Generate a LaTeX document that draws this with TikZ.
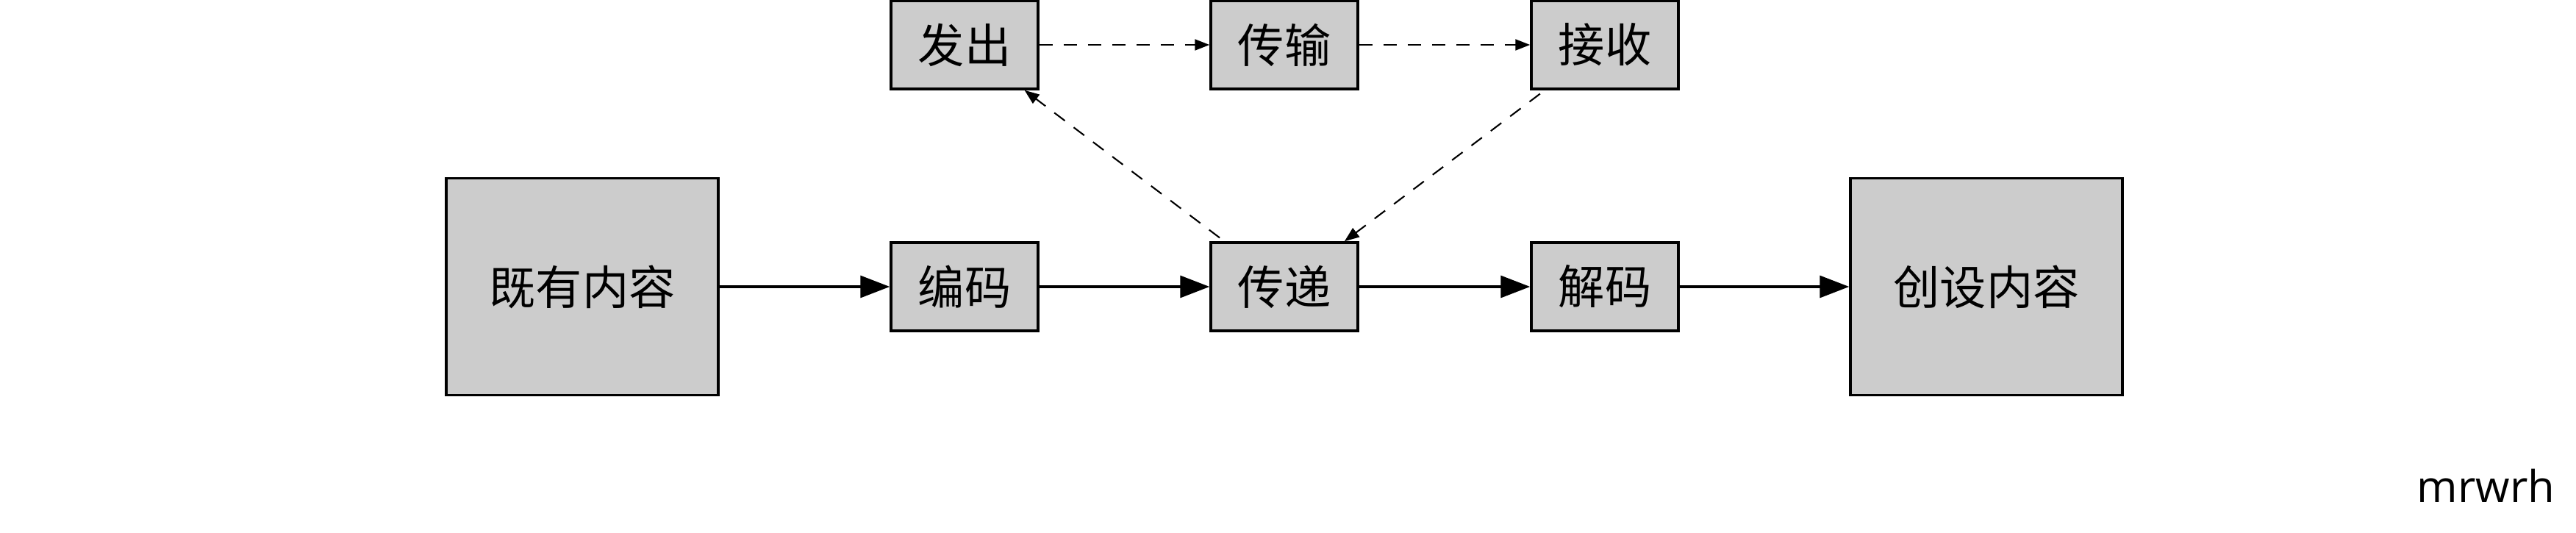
\documentclass[tikz,border=0pt]{standalone}
\usepackage{fontspec}
\setmainfont{Open Sans}
\newfontfamily\cjk{Noto Sans CJK SC}
\usetikzlibrary{positioning,arrows.meta}
\definecolor{figgrey}{gray}{0.8}
\tikzset{
  fig/.style={font=\fontsize{18}{22}\selectfont\cjk},
  box/.style={draw,line width=1pt,fill=figgrey,minimum height=12mm,minimum width=20mm,
              align=center,inner sep=0pt},
  bigbox/.style={box,minimum height=29.5mm,minimum width=37mm},
  ln/.style={-{Triangle[length=4mm,width=3mm]},line width=0.9pt},
  lnd/.style={-{Triangle[length=2mm,width=1.5mm]},line width=0.6pt,
              dash pattern=on 1.8mm off 1.5mm},
}

\begin{document}
\begin{tikzpicture}[fig]
\useasboundingbox (0,0) rectangle (350.4mm,72.4mm);

% Row 0: send, transfer, receive
\node[box] (fc) at (131.2mm,66.3mm) {发出};
\node[box] (cs) at (174.7mm,66.3mm) {传输};
\node[box] (js) at (218.3mm,66.3mm) {接收};

% Row 1: main chain
\node[bigbox] (jy) at (79.2mm,33.4mm) {既有内容};
\node[box] (bm) at (131.2mm,33.4mm) {编码};
\node[box] (cd) at (174.7mm,33.4mm) {传递};
\node[box] (jm) at (218.3mm,33.4mm) {解码};
\node[bigbox] (cj) at (270.2mm,33.4mm) {创设内容};

\draw[ln] (jy) -- (bm);
\draw[ln] (bm) -- (cd);
\draw[ln] (cd) -- (jm);
\draw[ln] (jm) -- (cj);

% Dashed loop over the top
\draw[lnd] (fc) -- (cs);
\draw[lnd] (cs) -- (js);
\draw[lnd,shorten <=0.8mm] (cd) -- (fc);
\draw[lnd,shorten <=0.8mm] (js) -- (cd);

\node[font=\fontsize{17}{20}\selectfont,anchor=base east,inner sep=0pt] (sig) at (347.6mm,4.1mm) {mrwrh};

\end{tikzpicture}
\end{document}
